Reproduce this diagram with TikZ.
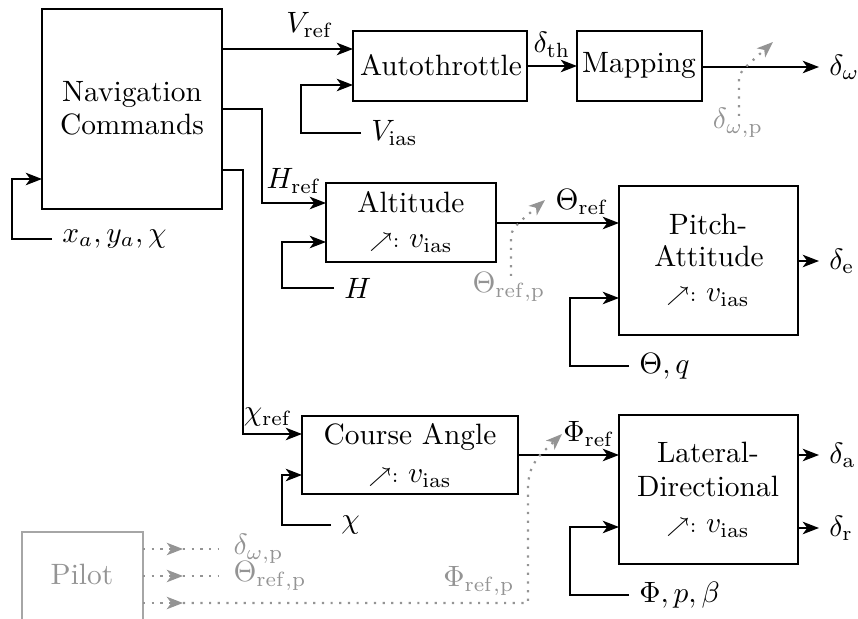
\documentclass[tikz,border=0pt]{standalone}
\usetikzlibrary{arrows.meta,fit}
\colorlet{pgray}{black!42}
\colorlet{pbox}{black!35}
\tikzset{
  box/.style={draw, line width=0.85pt, inner sep=0pt, outer sep=0pt},
  ln/.style={line width=0.85pt},
  arr/.style={ln, -{Stealth[length=5.5pt,width=4.2pt,inset=1.5pt]}},
  gline/.style={pgray, line width=0.75pt, dash pattern=on 0.75pt off 2.2pt},
  garr/.style={gline, -{Stealth[length=5.5pt,width=4.2pt,inset=1.5pt]}},
  txt/.style={inner sep=0pt, anchor=base},
  gtxt/.style={txt, text=pgray},
  fb/.style={anchor=west},
}
\newcommand{\gainv}{{\scriptsize$\nearrow$:}~$v_{\mathrm{ias}}$}
\begin{document}
\begin{tikzpicture}[x=0.34pt,y=-0.34pt]
\useasboundingbox (0,0) rectangle (858,619);
\clip (0,0) rectangle (858,619);

% ---------- boxes ----------
\coordinate (n1) at (42,9);    \coordinate (n2) at (222,209);
\node[box, fit=(n1)(n2)] (nav) {};
\coordinate (a1) at (353,31);  \coordinate (a2) at (527,101);
\node[box, fit=(a1)(a2)] (at) {};
\coordinate (m1) at (577,31);  \coordinate (m2) at (702,101);
\node[box, fit=(m1)(m2)] (map) {};
\coordinate (h1) at (326,183); \coordinate (h2) at (496,262);
\node[box, fit=(h1)(h2)] (alt) {};
\coordinate (p1) at (619,186); \coordinate (p2) at (798,335);
\node[box, fit=(p1)(p2)] (pa) {};
\coordinate (c1) at (302,416); \coordinate (c2) at (518,494);
\node[box, fit=(c1)(c2)] (ca) {};
\coordinate (l1) at (619,415); \coordinate (l2) at (798,564);
\node[box, fit=(l1)(l2)] (ld) {};
\coordinate (q1) at (22,532);  \coordinate (q2) at (143,650);
\node[box, draw=pbox, fit=(q1)(q2)] (pil) {};

% ---------- box texts ----------
\node[txt] (navt1) at (132,102) {Navigation};
\node[txt] (navt2) at (132,135) {Commands};
\node[txt] (att) at (441,76) {Autothrottle};
\node[txt] (mapt) at (639,73) {Mapping};
\node[txt] (altt) at (411,213) {Altitude};
\node[txt] (altg) at (411,248) {\gainv};
\node[txt] (pat1) at (708,235) {Pitch-};
\node[txt] (pat2) at (709,267) {Attitude};
\node[txt] (pag) at (708,302) {\gainv};
\node[txt] (cat) at (410,445) {Course Angle};
\node[txt] (cag) at (410,483) {\gainv};
\node[txt] (ldt1) at (708,463) {Lateral-};
\node[txt] (ldt2) at (708,497) {Directional};
\node[txt] (ldg) at (708,533) {\gainv};
\node[gtxt] (pilt) at (82,585) {Pilot};

% ---------- signal labels ----------
\node[txt] (vref) at (310,33) {$V_{\mathrm{ref}}$};
\node[txt] (dth) at (552,53) {$\delta_{\mathrm{th}}$};
\node[txt] (href) at (294,189) {$H_{\mathrm{ref}}$};
\node[txt] (chiref) at (268,421) {$\chi_{\mathrm{ref}}$};
\node[txt] (tref) at (582,210) {$\Theta_{\mathrm{ref}}$};
\node[txt] (pref) at (589,442) {$\Phi_{\mathrm{ref}}$};

% feedback labels
\node[fb] (xlab) at (52,239) {$x_a, y_a, \chi$};
\node[fb] (vias) at (361,133) {$V_{\mathrm{ias}}$};
\node[fb] (hlab) at (334,288) {$H$};
\node[fb] (chil) at (331,525) {$\chi$};
\node[fb] (thq) at (629,366) {$\Theta, q$};
\node[fb] (ppb) at (629,595) {$\Phi, p, \beta$};

% output labels
\node[fb] (dw) at (819,67) {$\delta_{\omega}$};
\node[fb] (de) at (819,261) {$\delta_{\mathrm{e}}$};
\node[fb] (da) at (819,455) {$\delta_{\mathrm{a}}$};
\node[fb] (dr) at (819,528) {$\delta_{\mathrm{r}}$};

% gray labels
\node[gtxt] (dwp) at (738,129) {$\delta_{\omega,\mathrm{p}}$};
\node[gtxt] (trp) at (509,293) {$\Theta_{\mathrm{ref,p}}$};
\node[gtxt] (prp) at (479,587) {$\Phi_{\mathrm{ref,p}}$};
\node[gtxt, anchor=base west] (pdw) at (233,555) {$\delta_{\omega,\mathrm{p}}$};
\node[gtxt, anchor=base west] (ptr) at (233,582) {$\Theta_{\mathrm{ref,p}}$};

% ---------- connectors ----------
% navigation feedback
\draw[arr] (xlab.west) -- (12,239) -- (12,179) -- (nav.west |- 0,179);
% V_ref
\draw[arr] (nav.east |- 0,49) -- (at.west |- 0,49);
\draw[arr] (vias.west) -- (301,133) -- (301,85) -- (at.west |- 0,85);
% H_ref
\draw[arr] (nav.east |- 0,109) -- (262,109) -- (262,203) -- (alt.west |- 0,203);
\draw[arr] (hlab.west) -- (282,288) -- (282,242) -- (alt.west |- 0,242);
% chi_ref
\draw[arr] (nav.east |- 0,170) -- (243,170) -- (243,434) -- (ca.west |- 0,434);
\draw[arr] (chil.west) -- (282,525) -- (282,475) -- (ca.west |- 0,475);
% autothrottle -> mapping -> output
\draw[arr] (at.east |- 0,66) -- (map.west |- 0,66);
\draw[arr] (map.east |- 0,67) -- (dw.west);
% altitude -> pitch
\draw[arr] (alt.east |- 0,223) -- (pa.west |- 0,223);
\draw[arr] (thq.west) -- (570,366) -- (570,298) -- (pa.west |- 0,298);
\draw[arr] (pa.east |- 0,261) -- (de.west);
% course -> lateral
\draw[arr] (ca.east |- 0,455) -- (ld.west |- 0,455);
\draw[arr] (ppb.west) -- (570,595) -- (570,527) -- (ld.west |- 0,527);
\draw[arr] (ld.east |- 0,455) -- (da.west);
\draw[arr] (ld.east |- 0,528) -- (dr.west);

% ---------- pilot switches (gray dotted) ----------
\coordinate (s1) at (739,116);
\draw[garr] (s1) -- (739,80) to[out=90,in=225] (751,62) -- (773,42);
\coordinate (s2) at (511,276);
\draw[garr] (s2) -- (511,238) to[out=90,in=225] (523,219) -- (545,200);

\coordinate (pa1) at (183,549);
\coordinate (pa2) at (183,576);
\coordinate (pa3) at (183,603);
\draw[garr] (pil.east |- pa1) -- (pa1);
\draw[gline] (pa1) -- (218,549);
\draw[garr] (pil.east |- pa2) -- (pa2);
\draw[gline] (pa2) -- (218,576);
\draw[garr] (pil.east |- pa3) -- (pa3);
\draw[garr] (pa3) -- (528,603) -- (528,490) to[out=90,in=225] (543,452) -- (562,434);
\end{tikzpicture}
\end{document}
